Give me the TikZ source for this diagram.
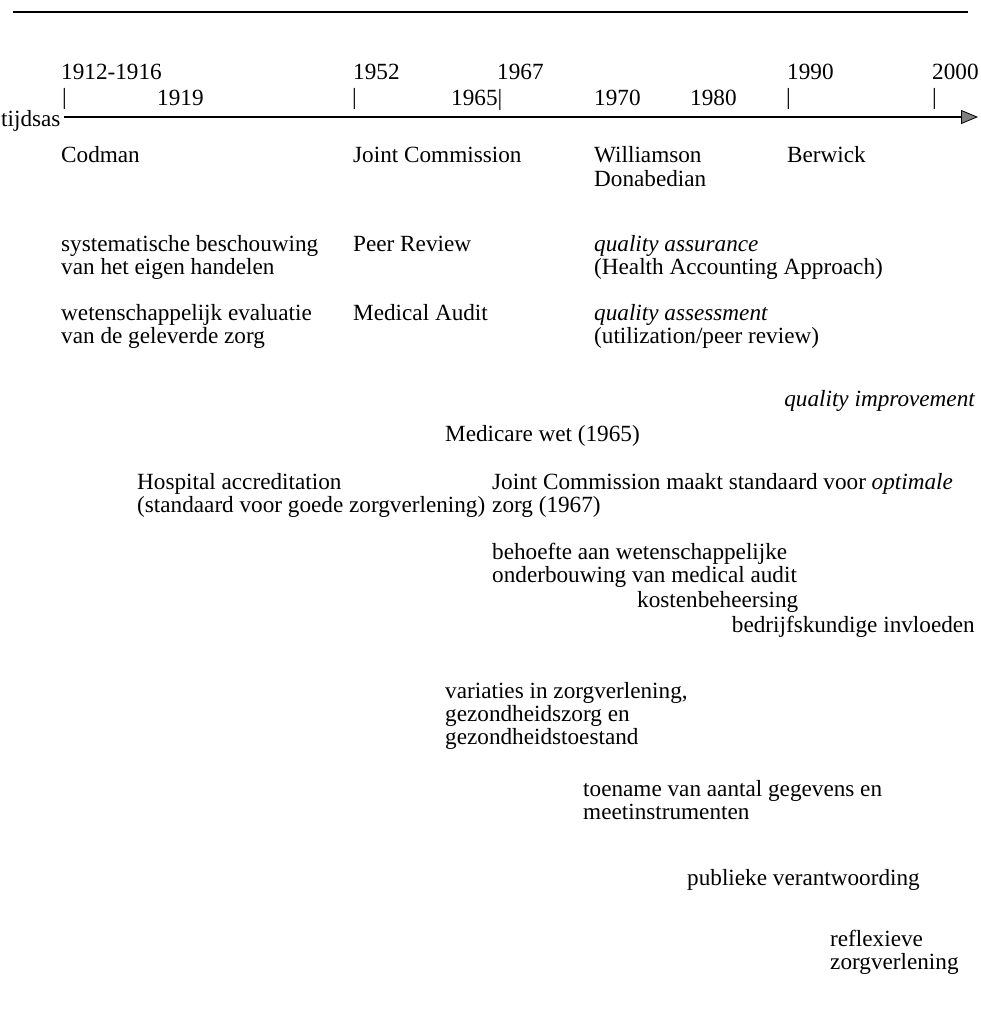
\documentclass[tikz,border=0pt]{standalone}
\usepackage{fontspec}
\setmainfont{Liberation Serif}
\usetikzlibrary{arrows.meta}
\begin{document}
\begin{tikzpicture}[x=1pt,y=-1pt,
  txt/.style={inner sep=0pt, anchor=base west, font=\fontsize{23.2}{23}\selectfont},
  txtr/.style={txt, anchor=base east},
  rulestyle/.style={line width=1.4pt},
  axisstyle/.style={line width=1.4pt,
    -{Triangle[length=17pt,width=14pt,fill=gray,line width=0.8pt]}}]
\useasboundingbox (0,0) rectangle (981,1019);

% top rule
\coordinate (ruleL) at (13,12);
\coordinate (ruleR) at (968,12);
\draw[rulestyle] (ruleL) -- (ruleR);

% year labels above the axis
\node[txt] (y1912) at (61,80) {1912-1916};
\node[txt] (y1952) at (353,80) {1952};
\node[txt] (y1967) at (497,80) {1967};
\node[txt] (y1990) at (787,80) {1990};
\node[txt] (y2000) at (932,80) {2000};

\node[txt] (t1912) at (62,105) {|};
\node[txt] (y1919) at (157,106) {1919};
\node[txt] (t1952) at (352,105) {|};
\node[txt] (y1965) at (451,106) {1965|};
\node[txt] (y1970) at (594,106) {1970};
\node[txt] (y1980) at (690,106) {1980};
\node[txt] (t1990) at (786,105) {|};
\node[txt] (t2000) at (932,105) {|};

% time axis
\node[txt] (tijdsas) at (1,127) {tijdsas};
\coordinate (axisL) at (64,117);
\coordinate (axisR) at (978,117);
\draw[axisstyle] (axisL) -- (axisR);

% persons
\node[txt] (codman) at (61,163) {Codman};
\node[txt] (jc) at (353,163) {Joint Commission};
\node[txt] (will) at (594,163) {Williamson};
\node[txt] (dona) at (594,186) {Donabedian};
\node[txt] (berw) at (787,163) {Berwick};

% approaches
\node[txt] (sys1) at (61,251) {systematische beschouwing};
\node[txt] (sys2) at (61,274) {van het eigen handelen};
\node[txt] (peer) at (353,251) {Peer Review};
\node[txt] (qa1) at (594,251) {\itshape quality assurance};
\node[txt] (qa2) at (594,274) {(Health Accounting Approach)};

\node[txt] (wet1) at (61,320) {wetenschappelijk evaluatie};
\node[txt] (wet2) at (61,343) {van de geleverde zorg};
\node[txt] (audit) at (353,320) {Medical Audit};
\node[txt] (qas1) at (594,320) {\itshape quality assessment};
\node[txt] (qas2) at (594,343) {(utilization/peer review)};

\node[txtr] (qi) at (975,406) {\itshape quality improvement};

% developments
\node[txt] (medicare) at (445,441) {Medicare wet (1965)};
\node[txt] (hosp1) at (137,489) {Hospital accreditation};
\node[txt] (hosp2) at (137,512) {(standaard voor goede zorgverlening)};
\node[txt] (jcs1) at (492,489) {Joint Commission maakt standaard voor \textit{optimale}};
\node[txt] (jcs2) at (492,512) {zorg (1967)};

\node[txt] (beh1) at (492,559) {behoefte aan wetenschappelijke};
\node[txt] (beh2) at (492,582) {onderbouwing van medical audit};
\node[txt] (kost) at (637,607) {kostenbeheersing};
\node[txtr] (bedr) at (975,632) {bedrijfskundige invloeden};

\node[txt] (var1) at (445,698) {variaties in zorgverlening,};
\node[txt] (var2) at (445,721) {gezondheidszorg en};
\node[txt] (var3) at (445,744) {gezondheidstoestand};

\node[txt] (toe1) at (583,796) {toename van aantal gegevens en};
\node[txt] (toe2) at (583,819) {meetinstrumenten};

\node[txt] (publ) at (687,885) {publieke verantwoording};

\node[txt] (refl1) at (830,946) {reflexieve};
\node[txt] (refl2) at (830,969) {zorgverlening};
\end{tikzpicture}
\end{document}
